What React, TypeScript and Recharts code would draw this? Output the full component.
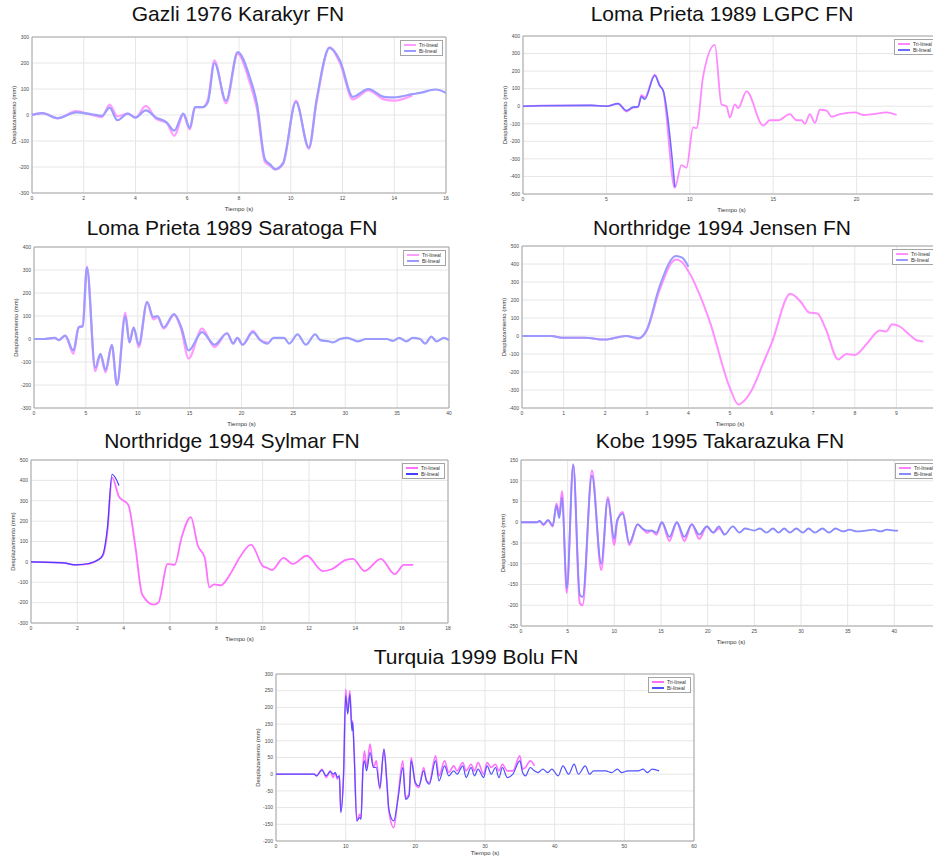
import React from "react";
import { LineChart, Line, XAxis, YAxis, CartesianGrid, Legend, ReferenceArea } from "recharts";

const FONT = '"Liberation Sans", Arial, Helvetica, sans-serif';

// Gazli 1976 Karakyr FN
const gazliT = [0, 0.4, 1.0, 1.7, 2.3, 2.7, 3.0, 3.3, 3.7, 4.0, 4.4, 4.8, 5.2, 5.5, 5.85, 6.1, 6.3, 6.6, 6.8, 7.05, 7.5, 7.95, 8.4, 8.7, 9.0, 9.2, 9.4, 9.7, 10.2, 10.7, 11.0, 11.5, 11.9, 12.4, 13.0, 13.6, 14.0, 14.7, 15.0, 15.6, 16.0];
const gazliTri = [0, 7, -13, 15, 0, -8, 40, -5, 5, -10, 35, -15, -30, -80, 0, -55, 30, 30, 60, 210, 45, 235, 130, 20, -180, -195, -210, -190, 55, -130, 50, 260, 200, 60, 95, 60, 55, 75];
const gazliBi = [0, 7, -12, 10, 3, -3, 28, -20, 5, -10, 18, -10, -28, -60, 5, -50, 30, 30, 50, 200, 55, 242, 150, 40, -170, -190, -208, -185, 50, -125, 60, 258, 210, 70, 100, 70, 68, 80, 85, 98, 85];
const gazliXTicks = [0, 2, 4, 6, 8, 10, 12, 14, 16];
const gazliYTicks = [-300, -200, -100, 0, 100, 200, 300];

// Loma Prieta 1989 LGPC FN
const lgpcT = [0, 1, 4.1, 5, 5.7, 6.2, 6.6, 6.9, 7.1, 7.3, 7.9, 8.2, 8.4, 9.1, 9.5, 9.8, 10.2, 10.4, 10.8, 11.5, 11.9, 12.2, 12.4, 12.7, 12.9, 13.4, 14.4, 14.8, 15.3, 16, 16.4, 16.7, 16.9, 17.2, 17.5, 17.8, 18.2, 18.5, 19, 19.9, 20.4, 21, 21.8, 22.4];
const lgpcTri = [0, 3, 5, 0, 15, -30, -8, -5, 65, 50, 180, 120, 90, -465, -335, -350, -120, -125, 170, 350, 10, 0, -65, 10, -10, 85, -110, -80, -80, -45, -80, -80, -100, -45, -95, -20, -25, -60, -45, -35, -50, -45, -35, -50];
const lgpcBi = [0, 3, 5, 0, 15, -25, -5, -3, 55, 40, 175, 115, 90, -460];
const lgpcXTicks = [0, 5, 10, 15, 20];
const lgpcYTicks = [-500, -400, -300, -200, -100, 0, 100, 200, 300, 400];

// Loma Prieta 1989 Saratoga FN
const sarT = [0, 1, 2, 2.4, 3, 3.8, 4.3, 4.7, 5.1, 5.9, 6.4, 6.9, 7.5, 8.0, 8.8, 9.2, 9.6, 10.1, 10.9, 11.5, 11.9, 12.5, 13.5, 14.2, 14.9, 16.2, 17.4, 18.6, 19.2, 19.6, 20.1, 21.1, 21.8, 22.5, 23.1, 23.5, 24.1, 24.6, 25.4, 26.2, 27.1, 27.6, 28.4, 28.8, 29.5, 30.2, 31.2, 32, 33, 34, 34.6, 35.2, 35.9, 36.5, 37.2, 37.7, 38.3, 38.8, 39.5, 40];
const sarTri = [0, 0, 5, -5, 15, -65, 50, 60, 315, -140, -70, -145, -30, -200, 115, -15, 50, -35, 160, 85, 95, 45, 105, 40, -85, 45, -35, 25, -20, 5, -25, 35, -5, -15];
const sarBi = [0, 0, 5, -5, 15, -50, 50, 55, 310, -125, -65, -135, -25, -200, 100, -15, 50, -25, 160, 95, 100, 50, 108, 50, -50, 30, -25, 25, -20, 5, -25, 30, -5, -20, 5, 5, 5, -20, 20, -25, 20, -5, -10, -15, 0, 5, -10, 0, 0, 0, -8, 5, -10, 5, 0, -20, 10, -10, 5, -5];
const sarXTicks = [0, 5, 10, 15, 20, 25, 30, 35, 40];
const sarYTicks = [-300, -200, -100, 0, 100, 200, 300, 400];

// Northridge 1994 Jensen FN
const jenT = [0, 0.7, 1.0, 1.5, 2.0, 2.5, 2.8, 3.0, 3.3, 3.7, 3.85, 4.0, 4.5, 5.0, 5.2, 5.5, 5.8, 6.0, 6.45, 6.7, 6.9, 7.1, 7.3, 7.6, 7.8, 8.0, 8.3, 8.6, 8.75, 8.9, 9.1, 9.3, 9.5, 9.65];
const jenTri = [0, 0, -10, -10, -20, 0, -15, 30, 250, 425, 410, 360, 90, -290, -380, -310, -150, -40, 235, 190, 130, 125, 40, -130, -100, -105, -40, 30, 25, 65, 50, 10, -25, -30];
const jenBi = [0, 0, -10, -10, -20, 0, -12, 35, 270, 445, 435, 385];
const jenXTicks = [0, 1, 2, 3, 4, 5, 6, 7, 8, 9];
const jenYTicks = [-400, -300, -200, -100, 0, 100, 200, 300, 400, 500];

// Northridge 1994 Sylmar FN
const sylT = [0, 1.4, 1.9, 2.5, 2.9, 3.1, 3.3, 3.5, 3.8, 4.0, 4.2, 4.5, 4.8, 5.3, 5.5, 5.9, 6.2, 6.5, 6.9, 7.2, 7.5, 7.7, 7.9, 8.2, 8.6, 9.0, 9.5, 10.0, 10.2, 10.4, 10.9, 11.3, 11.9, 12.6, 13.0, 13.6, 13.9, 14.4, 15.1, 15.7, 16.1, 16.5];
const sylTri = [0, -5, -15, -10, 10, 30, 150, 415, 320, 300, 280, 80, -160, -210, -200, -10, -15, 120, 220, 80, 20, -125, -110, -115, -60, 20, 85, -20, -30, -40, 20, -10, 30, -45, -35, 10, 15, -45, 15, -60, -15, -15];
const sylBi = [0, -5, -15, -8, 10, 35, 170, 430, 375];
const sylXTicks = [0, 2, 4, 6, 8, 10, 12, 14, 16, 18];
const sylYTicks = [-300, -200, -100, 0, 100, 200, 300, 400, 500];

// Kobe 1995 Takarazuka FN
const kobeT = [0, 1.7, 2.0, 2.4, 2.9, 3.4, 3.8, 4.1, 4.4, 4.9, 5.6, 6.3, 6.6, 7.6, 8.6, 9.3, 10.0, 10.3, 10.9, 11.6, 12.5, 13.0, 13.5, 14.0, 14.5, 15.1, 15.9, 16.7, 17.5, 18.3, 19.1, 19.9, 20.6, 21.2, 21.8, 22.7, 23.4, 24, 25.0, 25.6, 26.3, 27, 27.6, 28.2, 28.8, 29.5, 30.2, 30.8, 31.5, 32.3, 33, 33.7, 34.5, 35.2, 36, 37, 37.8, 38.5, 39.2, 40, 40.4];
const kobeTri = [0, 0, 3, -7, 5, -10, 45, 20, 75, -170, 140, -195, -200, 125, -115, 60, -55, 0, 25, -55, -5, -15, -25, -20, -30, 0, -45, 0, -45, -5, -40, -10, -25, -15, -30];
const kobeBi = [0, 0, 3, -5, 5, -8, 40, 10, 60, -160, 138, -175, -180, 112, -100, 55, -40, 5, 20, -50, -5, -15, -20, -20, -25, 0, -35, 0, -35, -5, -30, -10, -25, -10, -30, -10, -25, -15, -20, -15, -25, -15, -25, -15, -25, -15, -25, -15, -25, -15, -25, -15, -22, -18, -22, -20, -18, -22, -18, -20, -20];
const kobeXTicks = [0, 5, 10, 15, 20, 25, 30, 35, 40];
const kobeYTicks = [-250, -200, -150, -100, -50, 0, 50, 100, 150];

// Turquia 1999 Bolu FN
const boluT = [0, 5.5, 5.8, 6.6, 7.2, 7.8, 8.2, 8.5, 8.8, 9.1, 9.3, 9.7, 10.0, 10.3, 10.6, 10.9, 11.0, 11.2, 11.6, 12.0, 12.2, 12.5, 12.7, 13.0, 13.5, 14.0, 14.4, 14.9, 15.5, 15.9, 16.2, 16.9, 17.5, 18.2, 18.6, 19.1, 19.4, 20.0, 20.5, 21.2, 21.6, 22.0, 22.9, 23.4, 24.2, 24.8, 25.5, 26.0, 26.8, 27.3, 28.0, 28.5, 29.0, 29.8, 30.3, 30.9, 31.5, 32.0, 32.5, 33.2, 34.0, 35.0, 35.4, 35.8, 36.5, 37.1, 37.6, 38.3, 39, 39.6, 40.5, 41.2, 42, 42.8, 43.4, 44.4, 45.0, 45.6, 46.5, 47.3, 48.2, 49, 49.6, 50.5, 52, 52.7, 53.3, 54, 55];
const boluTri = [0, 0, -5, 15, -10, 10, -10, 5, -15, -5, -110, 0, 255, 185, 250, 140, 160, 80, -140, -120, -130, 30, 70, 20, 90, 20, 40, -45, 75, -20, -110, -160, -70, 40, -70, -60, 50, -30, -40, 20, -20, -25, 55, -5, 40, 5, 25, 10, 35, 10, 30, 10, 35, 0, 35, 20, 30, 10, 30, 10, 10, 55, 15, 20, 40, 25];
const boluBi = [0, 0, -5, 12, -5, 8, 0, 5, -10, -5, -115, 0, 235, 180, 240, 130, 155, 70, -140, -130, -135, 20, 40, 10, 65, 20, 20, -40, 75, -20, -105, -140, -75, 20, -75, -65, 40, -25, -35, 10, -20, -30, 40, -20, 25, -5, 10, 0, 25, -10, 20, -5, 15, -10, 25, 0, 20, -10, 20, -10, 0, 40, 5, -5, 20, 10, 5, 15, 5, 15, -5, 25, 0, 30, 0, 25, 0, 10, 10, 10, 5, 15, 5, 10, 10, 15, 5, 15, 10];
const boluXTicks = [0, 10, 20, 30, 40, 50, 60];
const boluYTicks = [-200, -150, -100, -50, 0, 50, 100, 150, 200, 250, 300];

const YW = 36;
const XH = 20;
const MT = 4;
const MR = 4;

interface LegendProps {
  triColor: string;
  biColor: string;
}

const LegendBox: React.FC<LegendProps> = ({ triColor, biColor }) => (
  <div
    style={{
      width: 43,
      boxSizing: "border-box",
      border: "1px solid #a4a4a4",
      background: "#fff",
      padding: "1px 3px",
      fontSize: 5,
      lineHeight: "6px",
      color: "#333",
      fontFamily: FONT,
      whiteSpace: "nowrap",
    }}
  >
    {[
      ["Tri-lineal", triColor],
      ["Bi-lineal", biColor],
    ].map(([name, c]) => (
      <div key={name} style={{ display: "flex", alignItems: "center", gap: 3 }}>
        <div style={{ width: 12, height: 1.5, background: c, flexShrink: 0 }} />
        <span>{name}</span>
      </div>
    ))}
  </div>
);

interface PanelProps {
  title: string;
  titleX: number;
  titleY: number;
  left: number;
  top: number;
  width: number;
  height: number;
  t: number[];
  tri: number[];
  bi: number[];
  xMax: number;
  xTicks: number[];
  yTicks: number[];
  triColor: string;
  biColor: string;
  triWidth: number;
  biWidth: number;
  xLabelOffset?: number;
}

const Panel: React.FC<PanelProps> = (p) => {
  const rows = p.t.map((t, i) => ({
    t,
    tri: i < p.tri.length ? p.tri[i] : null,
    bi: i < p.bi.length ? p.bi[i] : null,
  }));
  const xMin = p.xTicks[0];
  const yMin = p.yTicks[0];
  const yMax = p.yTicks[p.yTicks.length - 1];
  const tick = { fontSize: 5, fill: "#4a4a4a" };

  return (
    <>
      <div
        style={{
          position: "absolute",
          left: p.titleX - 200,
          top: p.titleY,
          width: 400,
          textAlign: "center",
          fontSize: 21,
          lineHeight: "22px",
          color: "#111",
        }}
      >
        {p.title}
      </div>
      <div style={{ position: "absolute", left: p.left - YW, top: p.top - MT }}>
        <LineChart
          width={p.width + YW + MR}
          height={p.height + MT + XH}
          data={rows}
          margin={{ top: MT, right: MR, bottom: 0, left: 0 }}
        >
          <CartesianGrid stroke="#e6e6e6" />
          <XAxis
            dataKey="t"
            type="number"
            domain={[xMin, p.xMax]}
            ticks={p.xTicks}
            interval={0}
            allowDataOverflow
            height={XH}
            tickSize={0}
            tickMargin={3}
            tick={tick}
            axisLine={false}
            label={{
              value: "Tiempo (s)",
              position: "insideBottom",
              offset: p.xLabelOffset ?? 2,
              fontSize: 6,
              fill: "#333",
            }}
          />
          <YAxis
            type="number"
            domain={[yMin, yMax]}
            ticks={p.yTicks}
            interval={0}
            allowDataOverflow
            width={YW}
            tickSize={0}
            tickMargin={3}
            tick={tick}
            axisLine={false}
            label={{ value: "Desplazamiento (mm)", angle: -90, position: "center", fontSize: 6, fill: "#333" }}
          />
          <ReferenceArea x1={xMin} x2={p.xMax} y1={yMin} y2={yMax} fill="none" stroke="#a6a6a6" strokeWidth={1} />
          <Line
            dataKey="tri"
            type="monotone"
            stroke={p.triColor}
            strokeWidth={p.triWidth}
            dot={false}
            activeDot={false}
            isAnimationActive={false}
          />
          <Line
            dataKey="bi"
            type="monotone"
            stroke={p.biColor}
            strokeWidth={p.biWidth}
            dot={false}
            activeDot={false}
            isAnimationActive={false}
          />
          <Legend
            layout="vertical"
            align="center"
            verticalAlign="middle"
            wrapperStyle={{ top: MT + 3, right: MR + 3 }}
            content={() => <LegendBox triColor={p.triColor} biColor={p.biColor} />}
          />
        </LineChart>
      </div>
    </>
  );
};

export default function App() {
  return (
    <div
      style={{
        position: "absolute",
        left: 0,
        top: 0,
        width: 933,
        height: 857,
        overflow: "hidden",
        background: "#fff",
        fontFamily: FONT,
      }}
    >
      <Panel
        title="Gazli 1976 Karakyr FN"
        titleX={238}
        titleY={3}
        left={32}
        top={37}
        width={414}
        height={156}
        t={gazliT}
        tri={gazliTri}
        bi={gazliBi}
        xMax={16}
        xTicks={gazliXTicks}
        yTicks={gazliYTicks}
        triColor="#ff9cff"
        biColor="#9c9cff"
        triWidth={2.2}
        biWidth={2.2}
      />
      <Panel
        title="Loma Prieta 1989 LGPC FN"
        titleX={722}
        titleY={3}
        left={523}
        top={36}
        width={417}
        height={158}
        t={lgpcT}
        tri={lgpcTri}
        bi={lgpcBi}
        xMax={25}
        xTicks={lgpcXTicks}
        yTicks={lgpcYTicks}
        triColor="#ff88ff"
        biColor="#6c6cff"
        triWidth={1.8}
        biWidth={1.6}
      />
      <Panel
        title="Loma Prieta 1989 Saratoga FN"
        titleX={232}
        titleY={217}
        left={34}
        top={247}
        width={415}
        height={161}
        t={sarT}
        tri={sarTri}
        bi={sarBi}
        xMax={40}
        xTicks={sarXTicks}
        yTicks={sarYTicks}
        triColor="#ff9cff"
        biColor="#9c9cff"
        triWidth={2.2}
        biWidth={2.2}
      />
      <Panel
        title="Northridge 1994 Jensen FN"
        titleX={722}
        titleY={217}
        left={522}
        top={246}
        width={416}
        height={162}
        t={jenT}
        tri={jenTri}
        bi={jenBi}
        xMax={10}
        xTicks={jenXTicks}
        yTicks={jenYTicks}
        triColor="#ff90ff"
        biColor="#9a9aff"
        triWidth={2}
        biWidth={2}
      />
      <Panel
        title="Northridge 1994 Sylmar FN"
        titleX={232}
        titleY={430}
        left={31}
        top={460}
        width={417}
        height={163}
        t={sylT}
        tri={sylTri}
        bi={sylBi}
        xMax={18}
        xTicks={sylXTicks}
        yTicks={sylYTicks}
        triColor="#ff70ff"
        biColor="#4040ff"
        triWidth={1.8}
        biWidth={1.2}
      />
      <Panel
        title="Kobe 1995 Takarazuka FN"
        titleX={720}
        titleY={430}
        left={521}
        top={460}
        width={420}
        height={166}
        t={kobeT}
        tri={kobeTri}
        bi={kobeBi}
        xMax={45}
        xTicks={kobeXTicks}
        yTicks={kobeYTicks}
        triColor="#ff80ff"
        biColor="#8a8aff"
        triWidth={2}
        biWidth={1.8}
      />
      <Panel
        title="Turquia 1999 Bolu FN"
        titleX={476}
        titleY={646}
        left={276}
        top={674}
        width={418}
        height={167}
        t={boluT}
        tri={boluTri}
        bi={boluBi}
        xMax={60}
        xTicks={boluXTicks}
        yTicks={boluYTicks}
        triColor="#ff70ff"
        biColor="#5050ff"
        triWidth={1.6}
        biWidth={1.2}
        xLabelOffset={6}
      />
    </div>
  );
}
